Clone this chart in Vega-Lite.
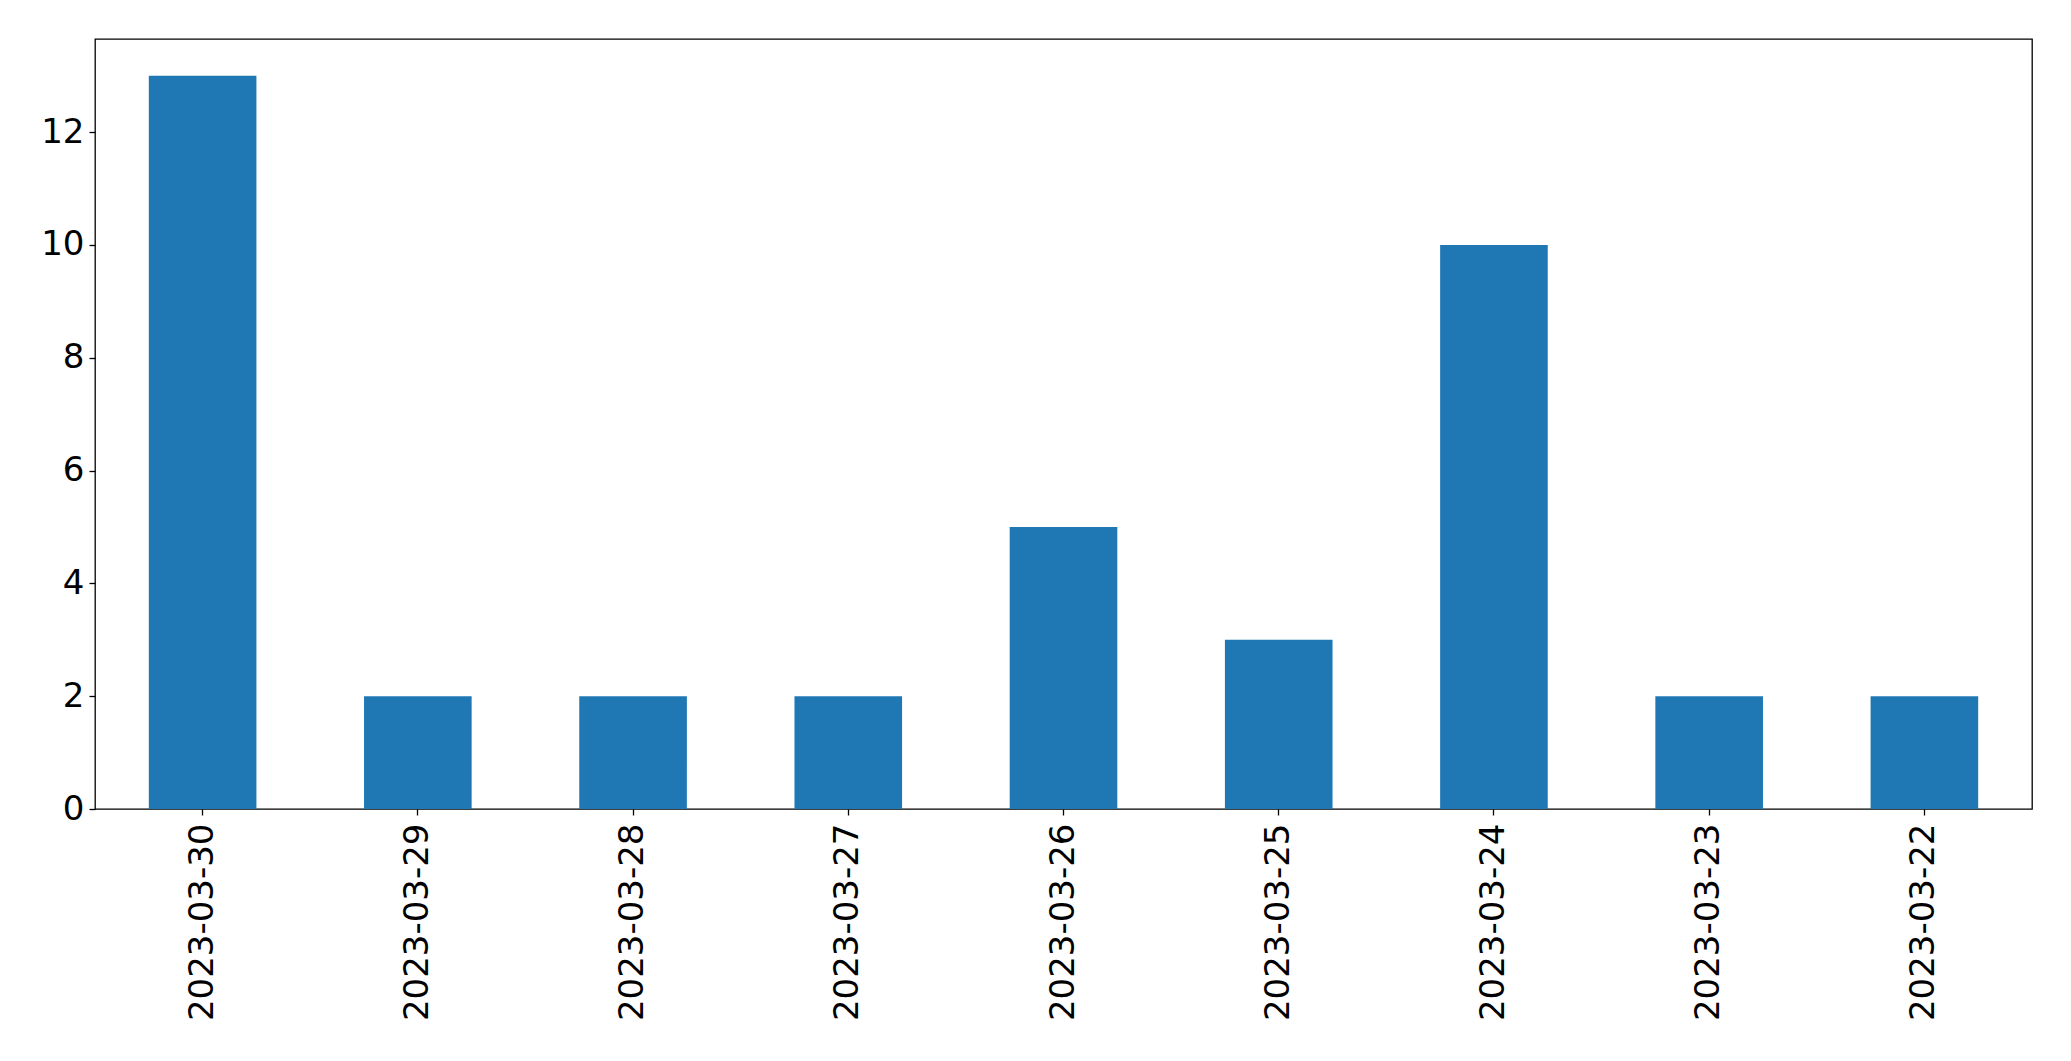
{
  "$schema": "https://vega.github.io/schema/vega-lite/v6.json",
  "autosize": {"type": "none"},
  "padding": {"left": 95, "top": 39, "right": 39, "bottom": 252},
  "width": 1937,
  "height": 770,
  "background": "white",
  "config": {
    "view": {"stroke": "black", "strokeWidth": 1.3},
    "axis": {
      "labelFont": "DejaVu Sans",
      "labelFontSize": 34,
      "labelColor": "black",
      "labelLimit": 0,
      "tickColor": "black",
      "tickSize": 6,
      "tickWidth": 1.3,
      "labelPadding": 5,
      "grid": false,
      "domain": false,
      "title": null
    }
  },
  "data": {
    "values": [
      {"date": "2023-03-30", "count": 13},
      {"date": "2023-03-29", "count": 2},
      {"date": "2023-03-28", "count": 2},
      {"date": "2023-03-27", "count": 2},
      {"date": "2023-03-26", "count": 5},
      {"date": "2023-03-25", "count": 3},
      {"date": "2023-03-24", "count": 10},
      {"date": "2023-03-23", "count": 2},
      {"date": "2023-03-22", "count": 2}
    ]
  },
  "mark": {"type": "bar", "color": "#1f77b4"},
  "encoding": {
    "x": {
      "field": "date",
      "type": "nominal",
      "sort": null,
      "scale": {"paddingInner": 0.5, "paddingOuter": 0.25},
      "axis": {"labelAngle": -90, "labelPadding": 8}
    },
    "y": {
      "field": "count",
      "type": "quantitative",
      "scale": {"domain": [0, 13.65], "nice": false},
      "axis": {"values": [0, 2, 4, 6, 8, 10, 12]}
    }
  }
}
